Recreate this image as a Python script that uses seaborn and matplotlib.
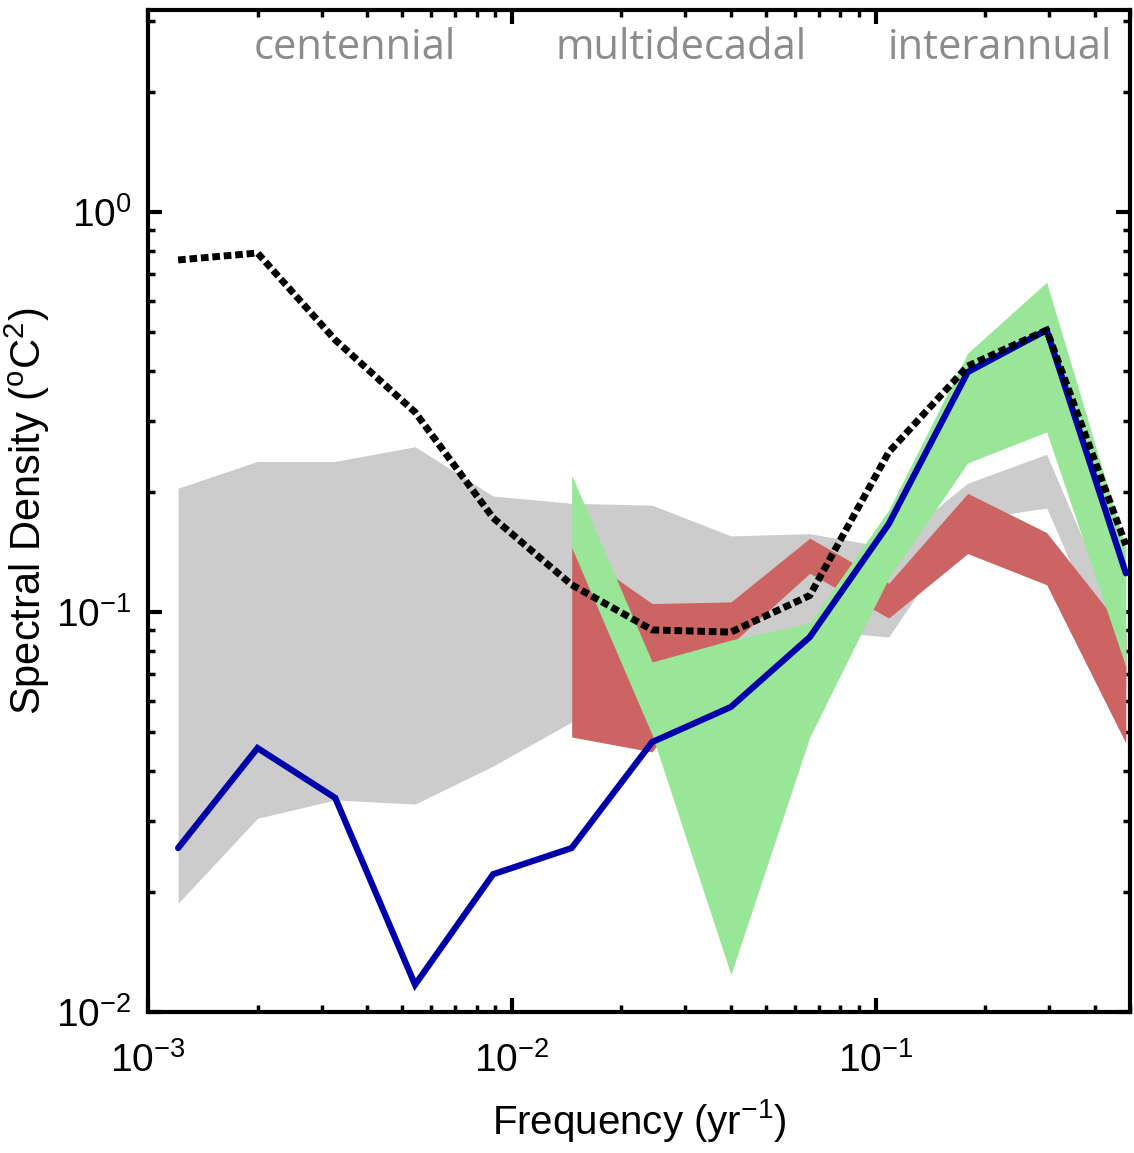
import matplotlib
matplotlib.use("Agg")
import matplotlib.pyplot as plt
import numpy as np
import pandas as pd
import seaborn as sns

# frequency bins (yr^-1)
freq = [0.00121, 0.00200, 0.00327, 0.00542, 0.00888, 0.0146, 0.0243,
        0.0400, 0.0659, 0.1086, 0.179, 0.295, 0.487]

# solid blue spectrum
blue_psd = [0.0257, 0.0457, 0.0343, 0.0117, 0.0221, 0.0257, 0.0473,
            0.0579, 0.0866, 0.166, 0.398, 0.507, 0.125]
# dotted black spectrum
black_psd = [0.759, 0.790, 0.479, 0.316, 0.172, 0.117, 0.0902,
             0.0891, 0.110, 0.251, 0.412, 0.507, 0.147]

# grey range (full frequency span)
grey_hi = [0.204, 0.238, 0.238, 0.259, 0.195, 0.187, 0.185,
           0.155, 0.157, 0.145, 0.210, 0.248, 0.085]
grey_lo = [0.0187, 0.0305, 0.0339, 0.0331, 0.0412, 0.0531, 0.0716,
           0.0851, 0.0902, 0.0866, 0.170, 0.182, 0.0638]

# red and green ranges start at the 6th bin
freq_short = freq[5:]
red_hi = [0.145, 0.105, 0.106, 0.153, 0.118, 0.198, 0.158, 0.0886]
red_lo = [0.0487, 0.0447, 0.0830, 0.125, 0.0966, 0.140, 0.117, 0.0470]
green_hi = [0.220, 0.075, 0.0851, 0.0939, 0.180, 0.444, 0.668, 0.145]
green_lo = [0.145, 0.0493, 0.0124, 0.0487, 0.1216, 0.236, 0.282, 0.0729]

band_labels = ["centennial", "multidecadal", "interannual"]


def main():
    sns.set_style("ticks")
    plt.rcParams["font.family"] = ["Liberation Sans", "DejaVu Sans"]
    plt.rcParams["mathtext.default"] = "regular"

    fig = plt.figure(figsize=(11.34, 11.53), dpi=100)
    ax = fig.add_axes([0.1305, 0.1223, 0.8660, 0.8690])

    ax.fill_between(freq, grey_lo, grey_hi, color="#cccccc", lw=0, zorder=1)
    ax.fill_between(freq_short, red_lo, red_hi, color="#cc6464", lw=0, zorder=2)
    ax.fill_between(freq_short, green_lo, green_hi, color="#99e699", lw=0, zorder=3)

    df = pd.DataFrame({"freq": freq, "blue": blue_psd, "black": black_psd})
    sns.lineplot(data=df, x="freq", y="blue", ax=ax, color="#0000aa",
                 lw=4.5, zorder=4, solid_joinstyle="miter")
    sns.lineplot(data=df, x="freq", y="black", ax=ax, color="black",
                 lw=5, zorder=5, linestyle=(0, (1.1, 0.55)),
                 dash_capstyle="butt")

    ax.set_xscale("log")
    ax.set_yscale("log")
    ax.set_xlim(1e-3, 0.5)
    ax.set_ylim(1e-2, 3.2)

    for s in ax.spines.values():
        s.set_linewidth(3)
        s.set_color("black")
        s.set_visible(True)
    ax.tick_params(which="both", direction="in", top=True, right=True,
                   labelsize=28, colors="black")
    ax.tick_params(axis="x", which="both", pad=22)
    ax.tick_params(axis="y", which="both", pad=12)
    ax.tick_params(which="major", length=10, width=3)
    ax.tick_params(which="minor", length=5, width=2.5)

    ax.set_xlabel("Frequency (yr$^{-1}$)", fontsize=29, labelpad=12,
                  color="black")
    ax.set_ylabel("Spectral Density ($^{o}$C$^{2}$)", fontsize=30,
                  color="black")
    ax.yaxis.set_label_coords(-0.098, 0.5)

    for lab, xf in zip(band_labels, [0.211, 0.543, 0.868]):
        ax.text(xf, 0.962, lab, transform=ax.transAxes, ha="center",
                va="center", fontsize=30, color="#8c8c8c",
                family=["Open Sans", "DejaVu Sans"])

    plt.savefig("out.png", dpi=100)


if __name__ == '__main__':
    main()
